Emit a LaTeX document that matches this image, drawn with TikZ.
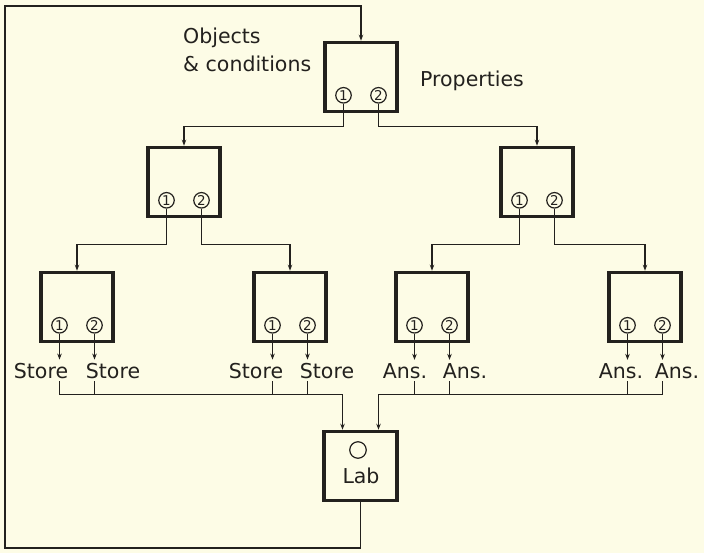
\documentclass[tikz,border=0pt]{standalone}
\usepackage{fontspec}
\setmainfont{DejaVu Sans}
\usepackage{tikz}
\usetikzlibrary{arrows.meta,positioning,calc}
\definecolor{paper}{RGB}{253,252,230}
\definecolor{ink}{RGB}{35,33,30}
\tikzset{
  blk/.style={draw=ink,line width=3.6pt,minimum width=72pt,minimum height=69pt,inner sep=0pt},  % decision box
  port/.style={draw=ink,circle,line width=1.2pt,minimum size=15.5pt,inner sep=0pt,text=ink,
               font=\fontsize{13.5}{14}\selectfont},                                          % numbered output
  tag/.style={font=\fontsize{20.5}{28}\selectfont,inner sep=3pt,anchor=base,text=ink},
  ln/.style={draw=ink,line width=1.2pt},
  ar/.style={ln,-{Stealth[length=6pt,width=4.5pt]}}
}

\begin{document}
\begin{tikzpicture}[x=1pt,y=1pt]
  \fill[paper] (0,0) rectangle (704,-553);
  \useasboundingbox (0,0) rectangle (704,-553);
  % decision boxes, each with outputs 1 and 2
  \foreach \n/\x/\y in {top/361/77,midl/184/182,midr/537/182,lowa/77/307,lowb/290/307,lowc/432/307,lowd/645/307}{
    \node[blk] (\n) at (\x,-\y) {};
    \node[port] (\n-1) at ($(\n.south)+(-17.5,18)$) {1};
    \node[port] (\n-2) at ($(\n.south)+(17.5,18)$) {2};
  }
  \node[blk,minimum width=73pt] (lab) at (360.5,-466) {};
  \node[port,minimum size=16.5pt] (bulb) at (358,-450) {};
  \node[tag] (labtxt) at (361,-483) {Lab};

  \node[tag,anchor=base west,align=left,inner sep=0pt] (objs) at (183,-72) {Objects\\\& conditions};
  \node[tag,anchor=base west,inner sep=0pt] (props) at (420,-87) {Properties};

  \foreach \n/\x/\txt in {sa/41/Store,sb/113/Store,sc/256/Store,sd/327/Store,
                          aa/405/Ans.,ab/465/Ans.,ac/621/Ans.,ad/677/Ans.}
    \node[tag] (\n) at (\x,-378) {\txt};

  % tree
  \draw[ar] (top-1.south) |- ([yshift=19pt]midl.north) -- (midl.north);
  \draw[ar] (top-2.south) |- ([yshift=19pt]midr.north) -- (midr.north);
  \draw[ar] (midl-1.south) |- ([yshift=26pt]lowa.north) -- (lowa.north);
  \draw[ar] (midl-2.south) |- ([yshift=26pt]lowb.north) -- (lowb.north);
  \draw[ar] (midr-1.south) |- ([yshift=26pt]lowc.north) -- (lowc.north);
  \draw[ar] (midr-2.south) |- ([yshift=26pt]lowd.north) -- (lowd.north);

  \foreach \p/\o in {lowa-1/sa,lowa-2/sb,lowb-1/sc,lowb-2/sd,lowc-1/aa,lowc-2/ab,lowd-1/ac,lowd-2/ad}
    \draw[ar] (\p.south) -- (\p.south |- \o.north);

  % collecting lines into Lab
  \coordinate (busl) at ($(lab.north)+(-18,35)$);
  \coordinate (busr) at ($(lab.north)+(18,35)$);
  \draw[ar] (lowa-1.south |- sa.south) |- (busl) -- (lab.north -| busl);
  \draw[ar] (lowd-2.south |- ad.south) |- (busr) -- (lab.north -| busr);
  \foreach \p/\o in {lowa-2/sb,lowb-1/sc,lowb-2/sd}
    \draw[ln] (\p.south |- \o.south) -- (\p.south |- busl);
  \foreach \p/\o in {lowc-1/aa,lowc-2/ab,lowd-1/ac}
    \draw[ln] (\p.south |- \o.south) -- (\p.south |- busr);

  % feedback
  \coordinate (fbl) at (5,-548);
  \coordinate (fbt) at (5,-6);
  \draw[ar] (lab.south) |- (fbl) -- (fbt) -| (top.north);
\end{tikzpicture}
\end{document}
